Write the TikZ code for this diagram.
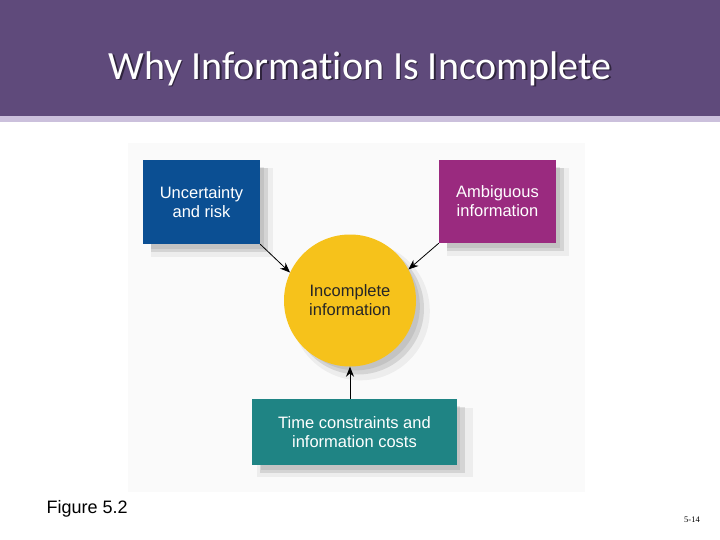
\documentclass[tikz,border=0pt]{standalone}
\usepackage{fontspec}
\setmainfont{Liberation Sans}
\newfontfamily\titlefont[Ligatures=CommonOff]{Carlito}
\newfontfamily\pagefont{Liberation Serif}
\usetikzlibrary{shadows,arrows.meta}
\definecolor{hdr}{HTML}{5F4A7B}
\definecolor{strip}{HTML}{CBC0DC}
\definecolor{bluebox}{HTML}{0B4F93}
\definecolor{purpbox}{HTML}{9A2A7F}
\definecolor{yellowc}{HTML}{F6C21B}
\definecolor{tealbox}{HTML}{1F8484}
\definecolor{figbg}{HTML}{FAFAFA}
\tikzset{
  softshadow/.style={
    general shadow={shadow xshift=10pt, shadow yshift=-10pt, fill=black, opacity=0.05, shadow scale=1.05},
    general shadow={shadow xshift=8pt, shadow yshift=-8pt, fill=black, opacity=0.10},
    general shadow={shadow xshift=6pt, shadow yshift=-6pt, fill=black, opacity=0.08, shadow scale=0.97}},
  boxnode/.style={rectangle, softshadow, text=white, align=center, inner sep=0pt,
    font=\fontsize{16.5}{19}\selectfont},
  circnode/.style={circle, softshadow, fill=yellowc, text=black!85, align=center,
    inner sep=0pt, minimum size=132pt, font=\fontsize{16.5}{19}\selectfont},
  arr/.style={draw=black, line width=0.8pt, -{Stealth[length=10pt,width=8pt]}}
}
\begin{document}
\begin{tikzpicture}[x=1pt,y=-1pt]
\useasboundingbox (0,0) rectangle (720,540);
\fill[white] (0,0) rectangle (720,540);
% header
\fill[hdr] (0,0) rectangle (720,116);
\fill[strip] (0,116) rectangle (720,122);
\node[text=black, opacity=0.5, font=\titlefont\fontsize{40}{44}\selectfont] at (361.5,70) {Why Information Is Incomplete};
\node (title) [text=white, font=\titlefont\fontsize{40}{44}\selectfont] at (360,68.5) {Why Information Is Incomplete};
% figure background
\fill[figbg] (128,143) rectangle (585,492);
% nodes
\node (unc) [boxnode, fill=bluebox, minimum width=117pt, minimum height=84pt] at (201.5,202) {Uncertainty\\and risk};
\node (amb) [boxnode, fill=purpbox, minimum width=117pt, minimum height=83pt] at (497.5,201.5) {Ambiguous\\information};
\node (inc) [circnode] at (350,300.5) {Incomplete\\information};
\node (tim) [boxnode, fill=tealbox, minimum width=205pt, minimum height=66pt] at (354.5,432) {Time constraints and\\information costs};
% connectors
\draw[arr] (unc.south east) -- (inc.155);
\draw[arr] (amb.south west) -- (inc.28);
\draw[arr] (inc.south |- tim.north) -- (inc.south);
% captions
\node (fig) [anchor=west, font=\fontsize{18}{20}\selectfont, inner sep=0pt] at (46.5,509) {Figure 5.2};
\node (pg) [anchor=east, font=\pagefont\fontsize{8.5}{10}\selectfont, inner sep=0pt] at (700,520) {5-14};
\end{tikzpicture}
\end{document}
